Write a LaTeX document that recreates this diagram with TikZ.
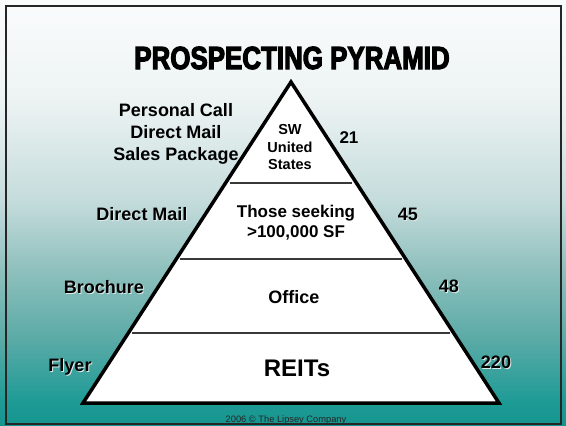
\documentclass[tikz,border=0pt]{standalone}
\usepackage{fontspec}
\setmainfont{Liberation Sans}
\newfontfamily\titlefont{Liberation Sans Bold}[FakeStretch=0.81,FakeBold=3.5]
\usetikzlibrary{calc}

% slide background: pale at the top, teal at the bottom
\definecolor{bgA}{HTML}{15948E}
\definecolor{bgB}{HTML}{1F9B96}
\definecolor{bgC}{HTML}{5AAAA6}
\definecolor{bgD}{HTML}{8EC0BD}
\definecolor{bgE}{HTML}{C5DCDC}
\definecolor{bgF}{HTML}{EDF3F3}
\definecolor{bgG}{HTML}{FAFCFC}
\definecolor{txtshadow}{HTML}{DCEAEA}
\pgfdeclareverticalshading{slidebg}{100bp}{%
  color(0bp)=(bgA); color(25bp)=(bgA); color(28.05bp)=(bgB);
  color(35.1bp)=(bgC); color(43.3bp)=(bgD); color(51.5bp)=(bgE);
  color(63.3bp)=(bgF); color(75bp)=(bgG); color(100bp)=(bgG)}

% text with a light drop shadow
\newcommand\shadowed[1]{\makebox[0pt][l]{\hspace{1pt}\raisebox{-1pt}{\textcolor{txtshadow}{#1}}}#1}

\tikzset{
  label18/.style={font=\fontsize{18}{22}\selectfont\bfseries, inner sep=0pt},
  tierline/.style={line width=1.4pt, draw=black!78, shorten <=4pt, shorten >=4pt},
  outline/.style={line width=3.5pt, draw=black, line join=miter},
}

\begin{document}
\begin{tikzpicture}[x=1pt,y=-1pt]
\useasboundingbox (0,0) rectangle (566,426);
\shade[shading=slidebg] (0,0) rectangle (566,426);
\draw[line width=2pt, black!85] (5.5,6) rectangle (561,424);

% title
\node[inner sep=0pt] (title) at (292,58) {\titlefont\fontsize{32}{36}\selectfont PROSPECTING PYRAMID};

% pyramid
\coordinate (apex) at (291,82);
\coordinate (bl) at (83,403);
\coordinate (br) at (499,403);
\fill[white] (apex) -- (bl) -- (br) -- cycle;
\draw[tierline] ($(apex)!0.3146!(bl)$) -- ($(apex)!0.3146!(br)$);
\draw[tierline] ($(apex)!0.5514!(bl)$) -- ($(apex)!0.5514!(br)$);
\draw[tierline] ($(apex)!0.7819!(bl)$) -- ($(apex)!0.7819!(br)$);
\draw[outline] (apex) -- (bl) -- (br) -- cycle;

% tier texts
\node[font=\fontsize{14.5}{17.5}\selectfont\bfseries, align=center, inner sep=0pt]
  (tier1) at (290,147.5) {SW\\United\\States};
\node[font=\fontsize{17}{19.5}\selectfont\bfseries, align=center, inner sep=0pt]
  (tier2) at (296,222.5) {Those seeking\\>100,000 SF};
\node[label18] (tier3) at (294,297) {Office};
\node[font=\fontsize{24}{28}\selectfont\bfseries, inner sep=0pt] (tier4) at (297,368) {REITs};

% methods on the left
\node[label18, align=center] (m1) at (176,133.5) {Personal Call\\Direct Mail\\Sales Package};
\node[label18] (m2) at (142,215) {\shadowed{Direct Mail}};
\node[label18] (m3) at (104,288) {\shadowed{Brochure}};
\node[label18] (m4) at (70,367) {\shadowed{Flyer}};

% counts on the right
\node[font=\fontsize{17}{20}\selectfont\bfseries, inner sep=0pt] (n1) at (349,138) {\shadowed{21}};
\node[label18] (n2) at (408,215) {\shadowed{45}};
\node[label18] (n3) at (449,287) {\shadowed{48}};
\node[label18] (n4) at (496,363) {\shadowed{220}};

% footer
\node[font=\fontsize{9.3}{11}\selectfont, text=black!85, inner sep=0pt] (foot) at (286,420) {2006 \textcopyright{} The Lipsey Company};
\end{tikzpicture}
\end{document}
